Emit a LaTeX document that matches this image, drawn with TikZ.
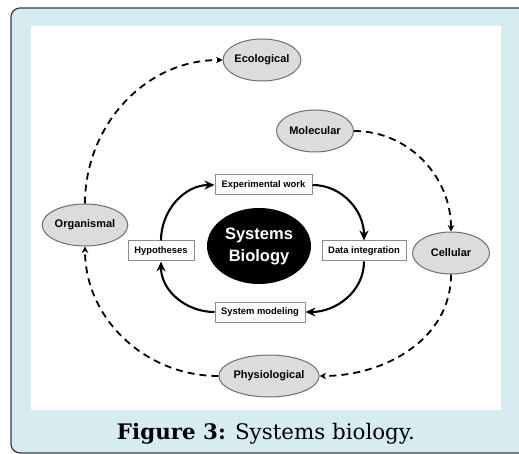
\documentclass[tikz,border=0pt]{standalone}
\usepackage{fontspec}
\setmainfont{DejaVu Serif}
\newfontfamily\labfont{Liberation Sans}
\usetikzlibrary{shapes.geometric,arrows.meta}

\definecolor{panelblue}{HTML}{D7ECF1}
\definecolor{framegray}{HTML}{3A3A3A}
\definecolor{levelfill}{HTML}{DCDCDC}
\definecolor{levelline}{HTML}{6E6E6E}
\definecolor{boxline}{HTML}{8C8C8C}

\tikzset{
  level/.style={ellipse, draw=levelline, fill=levelfill, line width=1pt,
    minimum width=77pt, minimum height=42pt, inner sep=0pt,
    font=\labfont\bfseries\fontsize{11}{13}\selectfont},
  stage/.style={rectangle, draw=boxline, fill=white, line width=1pt,
    minimum height=20pt, inner sep=0pt,
    font=\labfont\bfseries\fontsize{9.4}{11}\selectfont},
  core/.style={ellipse, fill=black, text=white, minimum width=104pt,
    minimum height=76pt, inner sep=0pt, align=center,
    font=\labfont\bfseries\fontsize{16.5}{22}\selectfont},
  cycle/.style={line width=2.1pt, -{Stealth[length=10pt,width=9pt]}},
  scale link/.style={line width=1.8pt, dash pattern=on 7pt off 5pt,
    -{Stealth[length=6.5pt,width=6.5pt]}},
}

\begin{document}
\begin{tikzpicture}[x=1pt,y=-1pt]
  \useasboundingbox (0,0) rectangle (519,454);
  % panel and figure area
  \begin{scope}
    \clip (0,0) rectangle (519,454);
    \draw[fill=panelblue, draw=framegray, line width=1.2pt, rounded corners=9pt]
      (11,8) rectangle (560,453);
  \end{scope}
  \fill[white] (31,26) rectangle (501,410);

  % outer ring of biological levels
  \node[level] (eco)  at (262,60)  {Ecological};
  \node[level] (mol)  at (315,131) {Molecular};
  \node[level] (org)  at (85,225)  {Organismal};
  \node[level] (cel)  at (451,253) {Cellular};
  \node[level] (phy)  at (269,376) {Physiological};

  % inner research cycle
  \node[core]  (sb)   at (259,246) {Systems\\Biology};
  \node[stage, minimum width=97pt] (exp) at (263.5,185) {Experimental work};
  \node[stage, minimum width=84pt] (dat) at (364,251)   {Data integration};
  \node[stage, minimum width=90pt] (mod) at (260,312)   {System modeling};
  \node[stage, minimum width=66pt] (hyp) at (161,251)   {Hypotheses};

  \draw[cycle] (hyp.north) to[out=90,in=180]  (exp.west);
  \draw[cycle] (exp.east)  to[out=0,in=90]    (dat.north);
  \draw[cycle] (dat.south) to[out=-90,in=0]   (mod.east);
  \draw[cycle] (mod.west)  to[out=180,in=-90] (hyp.south);

  \draw[scale link] (org.north) to[out=90,in=180]  (eco.west);
  \draw[scale link] (mol.east)  to[out=0,in=90]    (cel.north);
  \draw[scale link] (cel.south) to[out=-90,in=0]   (phy.east);
  \draw[scale link] (phy.west)  to[out=180,in=-90] (org.south);

  % caption
  \node (cap) at (266,434) {\fontsize{21.4}{25}\selectfont\textbf{Figure 3:} Systems biology.};
\end{tikzpicture}
\end{document}
